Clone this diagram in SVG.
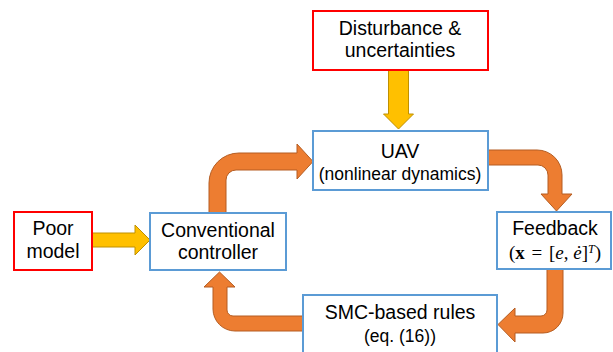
<svg xmlns="http://www.w3.org/2000/svg" width="613" height="352" viewBox="0 0 613 352">
  <style>
    .box-in { fill: #ffffff; stroke: #FF0000; stroke-width: 2; }
    .box { fill: #ffffff; stroke: #5B9BD5; stroke-width: 2; }
    .flow { fill: #ED7D31; stroke: #B55D22; stroke-width: 1; stroke-linejoin: miter; }
    .input { fill: #FFC000; stroke: #BF9000; stroke-width: 1; }
    .t { font-family: "Liberation Sans", Arial, sans-serif; font-size: 19.5px; fill: #000; text-anchor: middle; }
    .s { font-family: "Liberation Sans", Arial, sans-serif; font-size: 17.5px; fill: #000; text-anchor: middle; }
    .m { font-family: "Liberation Serif", "Times New Roman", serif; font-size: 19px; fill: #000; text-anchor: middle; }
  </style>

  <!-- connectors -->
  <g id="connectors">
    <!-- disturbance -> UAV -->
    <path class="input" d="M388.5,70 L408.5,70 L408.5,114 L413.5,114 L398.5,129 L383.5,114 L388.5,114 Z"/>
    <!-- poor model -> controller -->
    <path class="input" d="M92,233 L135,233 L135,225 L150,240 L135,255 L135,247 L92,247 Z"/>
    <!-- controller -> UAV -->
    <path class="flow" d="M209,213 L209,183 A30,30 0 0 1 239,153 L297,153 L297,144 L313,161.5 L297,179 L297,170 L236,170 A10,10 0 0 0 226,180 L226,213 Z"/>
    <!-- UAV -> feedback -->
    <path class="flow" d="M488,150 L537,150 A25,25 0 0 1 562,175 L562,194 L572,194 L556.5,211 L541,194 L548,194 L548,175 A10,10 0 0 0 538,165 L488,165 Z"/>
    <!-- feedback -> SMC rules -->
    <path class="flow" d="M547,269 L563,269 L563,313 A20,20 0 0 1 543,333 L515,333 L515,342 L498,324.5 L515,308 L515,316 L541,316 A6,6 0 0 0 547,310 Z"/>
    <!-- SMC rules -> controller -->
    <path class="flow" d="M303,316 L233,316 A6,6 0 0 1 227,310 L227,287 L235,287 L219.5,272 L204,287 L213,287 L213,309 A22,22 0 0 0 235,331 L303,331 Z"/>
  </g>

  <g id="disturbance">
    <rect class="box-in" x="313" y="11" width="175" height="59"/>
    <text class="t" x="400" y="35">Disturbance &amp;</text>
    <text class="t" x="400" y="57">uncertainties</text>
  </g>

  <g id="uav">
    <rect class="box" x="313" y="131" width="175" height="59"/>
    <text class="t" x="400" y="158">UAV</text>
    <text class="s" x="400" y="180">(nonlinear dynamics)</text>
  </g>

  <g id="poor-model">
    <rect class="box-in" x="14" y="212" width="78" height="58"/>
    <text class="t" x="53" y="235">Poor</text>
    <text class="t" x="53" y="258">model</text>
  </g>

  <g id="controller">
    <rect class="box" x="150" y="213" width="136" height="57"/>
    <text class="t" x="218" y="237">Conventional</text>
    <text class="t" x="218" y="259">controller</text>
  </g>

  <g id="feedback">
    <rect class="box" x="497" y="212" width="114" height="57"/>
    <text class="t" x="555" y="235">Feedback</text>
    <text class="m" x="555" y="259">(<tspan font-weight="bold">x</tspan> <tspan dx="2">=</tspan> <tspan dx="2">[</tspan><tspan font-style="italic">e</tspan>, <tspan font-style="italic">ė</tspan>]<tspan font-style="italic" font-size="12" dy="-6">T</tspan><tspan dy="6">)</tspan></text>
  </g>

  <g id="smc-rules">
    <rect class="box" x="303" y="295" width="194" height="70"/>
    <text class="t" x="400" y="319">SMC-based rules</text>
    <text class="s" x="400" y="342">(eq. (16))</text>
  </g>
</svg>
